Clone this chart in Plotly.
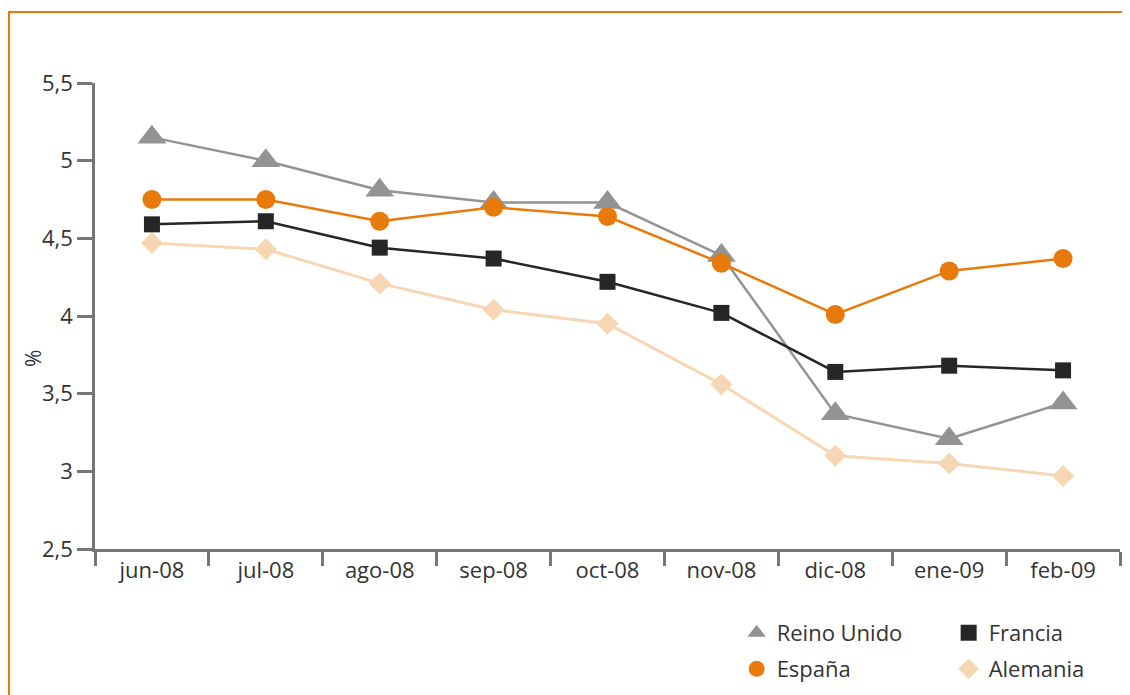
import plotly.graph_objects as go

months = ["jun-08", "jul-08", "ago-08", "sep-08", "oct-08", "nov-08", "dic-08", "ene-09", "feb-09"]
reino_unido = [5.15, 5.00, 4.81, 4.73, 4.73, 4.39, 3.37, 3.21, 3.44]
francia = [4.59, 4.61, 4.44, 4.37, 4.22, 4.02, 3.64, 3.68, 3.65]
espana = [4.75, 4.75, 4.61, 4.70, 4.64, 4.34, 4.01, 4.29, 4.37]
alemania = [4.47, 4.43, 4.21, 4.04, 3.95, 3.56, 3.10, 3.05, 2.97]
yticks = [2.5, 3, 3.5, 4, 4.5, 5, 5.5]

FONT = "Open Sans"
TXT = "#333333"
AX = "#767676"

series = [
    # name, values, colour, symbol, marker size, line width, legend
    ("Reino Unido", reino_unido, "#939393", "triangle-up", 25, 2.5, "legend"),
    ("Francia", francia, "#262626", "square", 16, 2.5, "legend"),
    ("España", espana, "#E8790B", "circle", 19, 2.5, "legend2"),
    ("Alemania", alemania, "#F7D6B4", "diamond", 17, 3, "legend2"),
]

fig = go.Figure()
# data traces (drawn order: Alemania at back)
for name, vals, col, sym, ms, lw, lg in [series[3], series[0], series[1], series[2]]:
    fig.add_trace(go.Scatter(x=months, y=vals, name=name, mode="lines+markers",
                             line=dict(color=col, width=lw),
                             marker=dict(symbol=sym, size=ms, color=col),
                             showlegend=False))
# legend entries (marker only, as in the reference)
for name, vals, col, sym, ms, lw, lg in series:
    fig.add_trace(go.Scatter(x=[None], y=[None], name=name, mode="markers",
                             marker=dict(symbol=sym, size=ms, color=col),
                             legend=lg, showlegend=True))

legend_common = dict(orientation="h", xanchor="left", yanchor="middle",
                     font=dict(family=FONT, size=22, color=TXT),
                     entrywidth=167, entrywidthmode="pixels",
                     bgcolor="rgba(0,0,0,0)", itemclick=False, itemdoubleclick=False)

fig.update_layout(
    width=1122, height=687,
    margin=dict(l=87, r=10, t=75, b=146, autoexpand=False),
    paper_bgcolor="white", plot_bgcolor="white",
    separators=",.",
    font=dict(family=FONT, size=22, color=TXT),
    showlegend=True,
    legend=dict(x=0.626, y=-0.180, **legend_common),
    legend2=dict(x=0.626, y=-0.2575, **legend_common),
    xaxis=dict(type="category", categoryorder="array", categoryarray=months,
               range=[-0.5, len(months) - 0.5],
               showline=True, linecolor=AX, linewidth=2.5,
               ticks="outside", tickson="boundaries", ticklen=14, tickcolor=AX, tickwidth=2.5,
               showgrid=False, zeroline=False,
               tickfont=dict(family=FONT, size=22, color=TXT)),
    yaxis=dict(range=[2.5, 5.5], tickvals=yticks,
               showline=True, linecolor=AX, linewidth=2.5,
               ticks="outside", ticklen=15, tickcolor=AX, tickwidth=2.5,
               showgrid=False, zeroline=False,
               tickfont=dict(family=FONT, size=22, color=TXT)),
    annotations=[dict(text="%", xref="paper", yref="paper", x=-0.0605, y=0.41,
                      xanchor="center", yanchor="middle",
                      textangle=-90, showarrow=False,
                      font=dict(family=FONT, size=21, color=TXT))],
    shapes=[dict(type="rect", xref="paper", yref="paper",
                 x0=-0.0839, x1=1.2, y0=-0.6, y1=1.1524,
                 line=dict(color="#E8790B", width=2), fillcolor="rgba(0,0,0,0)", layer="below")],
)

fig.write_html("out.html")
